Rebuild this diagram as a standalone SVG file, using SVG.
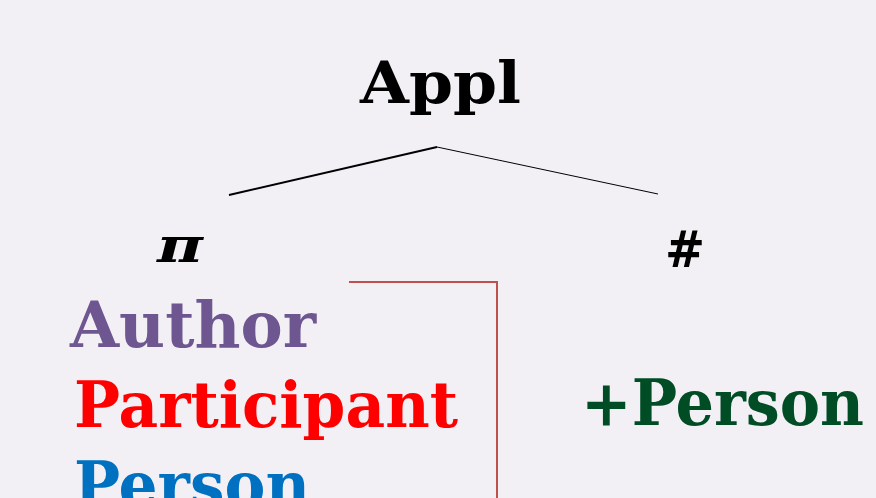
<svg xmlns="http://www.w3.org/2000/svg" width="876" height="498" viewBox="0 0 876 498">
  <style>
    .t { font-family: "DejaVu Serif", "Liberation Serif", serif; font-weight: bold; }
    .edge { stroke: #000; fill: none; }
  </style>
  <rect width="876" height="498" fill="#F2F0F5"/>
  <g id="connectors">
    <line class="edge" x1="229" y1="195" x2="437" y2="147" stroke-width="2"/>
    <line class="edge" x1="437" y1="147" x2="658" y2="194" stroke-width="1"/>
    <polyline points="349,282 497,282 497,498" fill="none" stroke="#C0504D" stroke-width="2"/>
  </g>
  <g id="appl"><text class="t" x="360" y="103" font-size="58" textLength="161" lengthAdjust="spacingAndGlyphs">Appl</text></g>
  <g id="pi"><text class="t" x="157" y="262" font-size="48" font-style="italic" textLength="46" lengthAdjust="spacingAndGlyphs">π</text></g>
  <g id="hash"><text class="t" x="665" y="267" font-size="50" textLength="40" lengthAdjust="spacingAndGlyphs">#</text></g>
  <g id="author"><text class="t" x="70" y="347" font-size="64" fill="#6E5691" textLength="246" lengthAdjust="spacingAndGlyphs">Author</text></g>
  <g id="participant"><text class="t" x="74" y="427" font-size="64" fill="#FF0000" textLength="384" lengthAdjust="spacingAndGlyphs">Participant</text></g>
  <g id="person"><text class="t" x="74" y="507" font-size="64" fill="#0070C0" textLength="236" lengthAdjust="spacingAndGlyphs">Person</text></g>
  <g id="plus-person"><text class="t" x="581" y="425" font-size="64" fill="#004D25" textLength="283" lengthAdjust="spacingAndGlyphs">+Person</text></g>
</svg>
